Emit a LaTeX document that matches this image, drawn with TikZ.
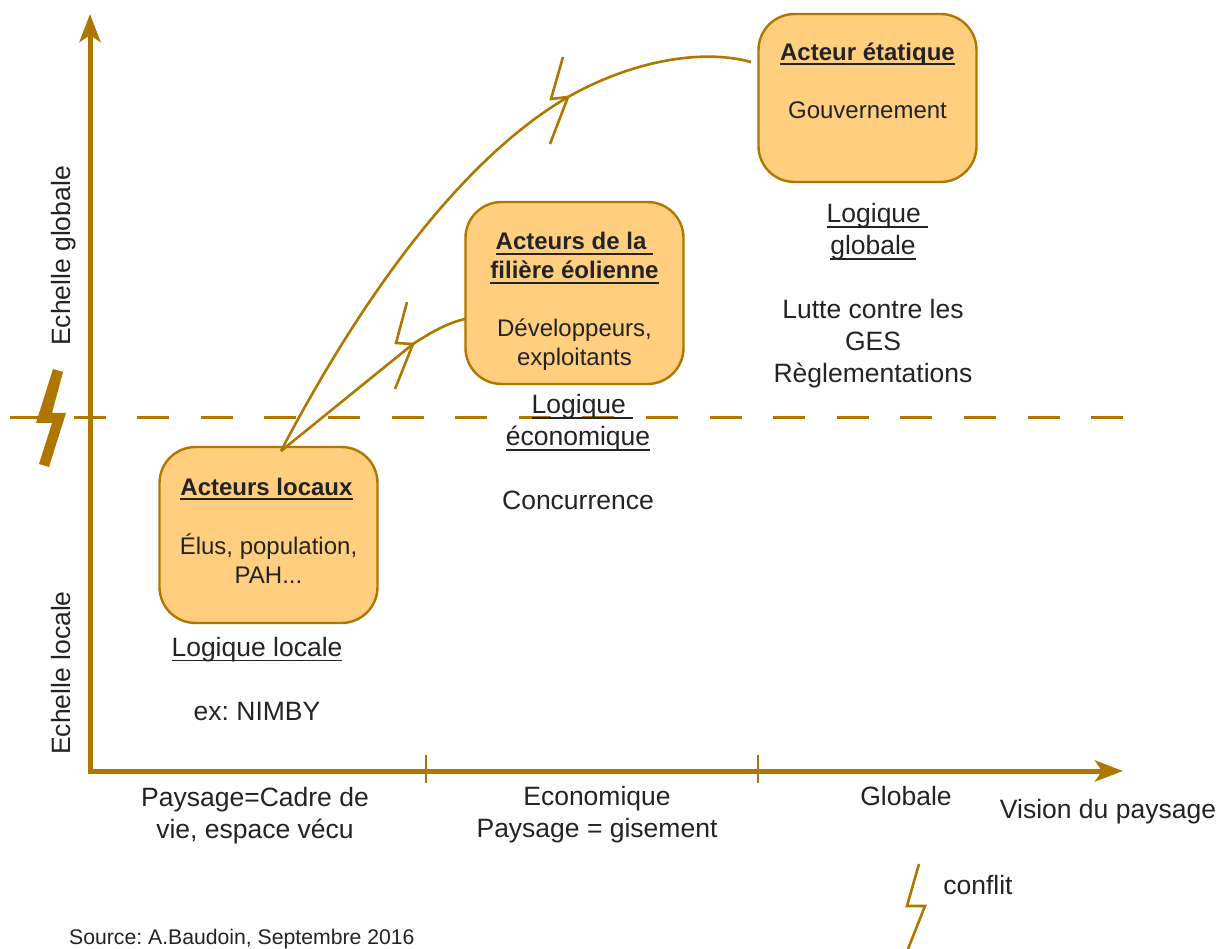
\documentclass[tikz,border=0pt]{standalone}
\usepackage{fontspec}
\setmainfont{Liberation Sans}
\usetikzlibrary{arrows.meta}
\definecolor{strk}{HTML}{B07700}
\definecolor{fil}{HTML}{FFCF7F}
\definecolor{txt}{HTML}{232323}
\frenchspacing
\newcommand{\undl}[1]{\leavevmode\setbox0=\hbox{#1}\rlap{\color{txt}\vrule width\wd0 height -3.2pt depth 5pt}\box0 }
\tikzset{
  actor/.style={draw=strk,fill=fil,line width=2.4pt,rounded corners=36pt,minimum width=218pt,text=txt,align=center,inner sep=0pt,
     font=\fontsize{24}{29}\selectfont},
  label/.style={text=txt,align=center,inner sep=0pt,font=\fontsize{26.5}{32}\selectfont,
     execute at begin node=\strut,execute at end node=\strut},
  axis/.style={draw=strk,line width=5pt,-{Stealth[length=28pt,width=21pt,inset=7pt]}},
  tick/.style={draw=strk,line width=2pt},
  link/.style={draw=strk,line width=2.6pt,line join=miter},
  limit/.style={draw=strk,line width=3pt,dash pattern=on 32pt off 31.6pt}
}
\begin{document}
\begin{tikzpicture}[x=1pt,y=-1pt]
\useasboundingbox (0,0) rectangle (1219,949);
% axes
\coordinate (o1) at (90,774);
\coordinate (ytop) at (90,14);
\coordinate (o2) at (87.5,771);
\coordinate (xend) at (1123,771);
\draw[axis] (o1) -- (ytop);
\draw[axis] (o2) -- (xend);
\coordinate (t1a) at (426,755); \coordinate (t1b) at (426,783);
\coordinate (t2a) at (758,755); \coordinate (t2b) at (758,783);
\draw[tick] (t1a) -- (t1b);
\draw[tick] (t2a) -- (t2b);
% dashed limit
\coordinate (la) at (10,418); \coordinate (lb) at (1125,418);
\draw[limit] (la) -- (lb);
% big bolt
\fill[strk] (53,369) -- (63,372) -- (52,413) -- (66,413) -- (49,467) -- (39,464) -- (52,423) -- (36,423) -- cycle;
% boxes
\node[actor,minimum height=176pt] (locaux) at (268.5,535) {\hspace*{-4pt}\undl{\textbf{Acteurs locaux}}\\[30pt]Élus, population,\\PAH...\\[-20pt]\mbox{}};
\node[actor,minimum height=182pt] (filiere) at (574.5,293) {\mbox{}\\[5pt]\undl{\textbf{Acteurs de la\ }}\\\undl{\textbf{filière éolienne}}\\[29pt]Développeurs,\\exploitants};
\node[actor,minimum height=168pt] (etat) at (867.5,98) {\undl{\textbf{Acteur étatique}}\\[29pt]Gouvernement\\[6pt]\mbox{}};
% connectors
\coordinate (src) at (281,451);
\coordinate (c1end) at (751,62);
\coordinate (b1a) at (563,57); \coordinate (b1b) at (551,99); \coordinate (b1c) at (568,97); \coordinate (b1d) at (550,144);
\draw[link] (src) .. controls (360,300) and (460,160) .. (b1c) .. controls (630,62) and (700,48) .. (c1end);
\draw[link] (b1a) -- (b1b) -- (b1c) -- (b1d);
\coordinate (c2end) at (465,319);
\coordinate (b2a) at (407,302); \coordinate (b2b) at (396,343); \coordinate (b2c) at (413,344); \coordinate (b2d) at (395,389);
\draw[link] (src) -- (b2c) .. controls (430,333) and (447,323) .. (c2end);
\draw[link] (b2a) -- (b2b) -- (b2c) -- (b2d);
% legend bolt
\coordinate (b3a) at (919,864); \coordinate (b3b) at (907,906); \coordinate (b3c) at (925,906); \coordinate (b3d) at (908,949);
\draw[link] (b3a) -- (b3b) -- (b3c) -- (b3d);
% labels
\node[label,rotate=90] (yg) at (64,256) {Echelle globale};
\node[label,rotate=90] (yl) at (64,673) {Echelle locale};
\node[label] (l1) at (257,650) {\undl{Logique locale}};
\node[label] (l1b) at (257,714) {ex: NIMBY};
\node[label] (l2) at (578,425) {\hspace*{9pt}\undl{Logique\ }\\\undl{économique}};
\node[label] (l2b) at (578,503) {Concurrence};
\node[label] (l3) at (873,234) {\hspace*{9pt}\undl{Logique\ }\\\undl{globale}};
\node[label] (l3b) at (873,346) {Lutte contre les\\GES\\Règlementations};
\node[label] (v1) at (255,818) {Paysage=Cadre de\\vie, espace vécu};
\node[label] (v2) at (597,817) {Economique\\Paysage = gisement};
\node[label] (v3) at (906,799) {Globale};
\node[label] (v4) at (1108,812) {Vision du paysage};
\node[label] (cf) at (978,888) {conflit};
\node[text=txt,inner sep=0pt,anchor=base west,font=\fontsize{21.2}{25}\selectfont] (src2) at (69,944) {Source: A.Baudoin, Septembre 2016};
\end{tikzpicture}
\end{document}
